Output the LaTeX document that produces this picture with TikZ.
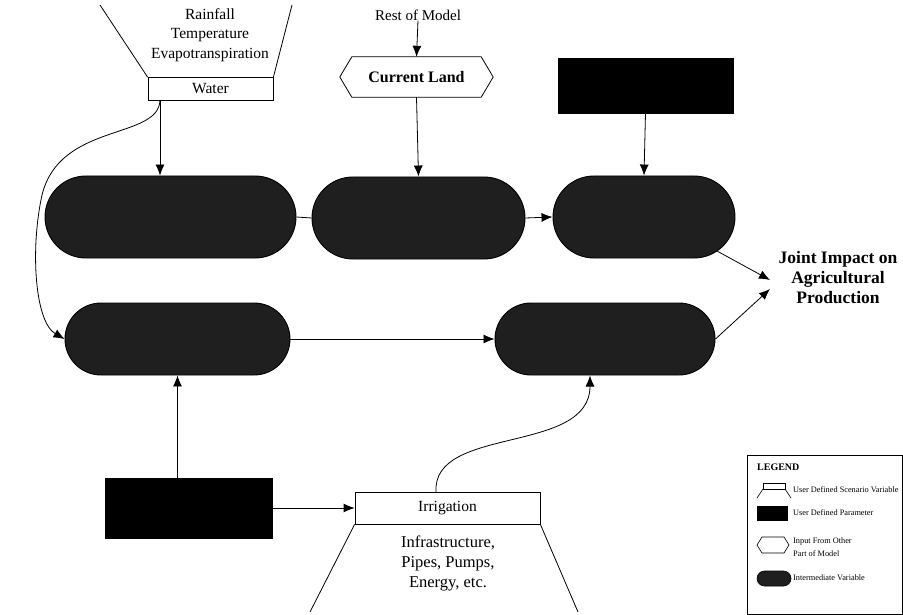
\documentclass[tikz,border=0pt]{standalone}
\usepackage{fontspec}
\setmainfont{Liberation Serif}
\usetikzlibrary{arrows.meta,shapes.misc}
\begin{document}
\begin{tikzpicture}[x=1pt,y=-1pt,
  arr/.style={-{Latex[length=11pt,width=9pt]}, line width=0.8pt},
  ln/.style={line width=0.8pt},
  pill/.style={rounded rectangle, draw=black, fill=black!88, line width=0.9pt, inner sep=0pt},
  param/.style={draw=black, fill=black, inner sep=0pt},
  whitebox/.style={draw=black, fill=white, line width=0.8pt, inner sep=0pt, font=\fontsize{15.5}{19}\selectfont},
  lbl/.style={align=center, font=\fontsize{15.5}{19.5}\selectfont, inner sep=0pt},
  blbl/.style={align=center, font=\fontsize{16}{20}\selectfont\bfseries, inner sep=0pt},
  leg/.style={anchor=west, align=left, font=\fontsize{8.3}{13}\selectfont, inner sep=0pt}
]
\useasboundingbox (0,0) rectangle (903,615);
\fill[white] (0,0) rectangle (903,615);

% ---- Water scenario variable
\node[lbl] (env) at (210,35) {Rainfall\\Temperature\\Evapotranspiration};
\node[whitebox, minimum width=125pt, minimum height=23pt] (water) at (210.5,89) {Water};
\draw[ln] (water.north west) -- (100,5);
\draw[ln] (water.north east) -- (292,5);
\coordinate (wout) at (160,100.5);

% ---- Current land
\node[lbl, font=\fontsize{15}{19}\selectfont] (rest) at (418,15) {Rest of Model};
\node[blbl, minimum width=153pt, minimum height=40pt] (cl) at (416.5,77) {};
\draw[ln, fill=white] (cl.west) -- ([xshift=12pt]cl.north west) -- ([xshift=-12pt]cl.north east)
  -- (cl.east) -- ([xshift=-12pt]cl.south east) -- ([xshift=12pt]cl.south west) -- cycle;
\node[blbl] (cltext) at (cl) {Current Land};

% ---- parameters
\node[param, minimum width=175pt, minimum height=55pt] (par1) at (645.5,85.5) {};
\node[param, minimum width=167pt, minimum height=60pt] (par2) at (188.5,508) {};

% ---- intermediate variables
\node[pill, minimum width=251pt, minimum height=82pt] (p1) at (170.5,217) {};
\node[pill, minimum width=213pt, minimum height=82pt] (p2) at (418.5,218) {};
\node[pill, minimum width=182pt, minimum height=82pt] (p3) at (644,217) {};
\node[pill, minimum width=225pt, minimum height=72pt] (p4) at (177.5,339) {};
\node[pill, minimum width=220pt, minimum height=72pt] (p5) at (605,339) {};

% ---- irrigation
\node[whitebox, minimum width=185pt, minimum height=32pt] (irr) at (447.5,508) {Irrigation};
\draw[ln] (irr.south west) -- (310,612);
\draw[ln] (irr.south east) -- (578,612);
\node[lbl, font=\fontsize{16.5}{20}\selectfont] (infra) at (448,563) {Infrastructure,\\Pipes, Pumps,\\Energy, etc.};
\coordinate (iout) at (436,492);

% ---- joint impact
\node[blbl, font=\fontsize{17.5}{20}\selectfont\bfseries] (joint) at (838,278) {Joint Impact on\\Agricultural\\Production};
\coordinate (j1) at (770,280);
\coordinate (j2) at (770,289);

% ---- connectors
\draw[arr] (rest.south) -- (cl.north);
\draw[arr] (cl.south) -- (p2.north);
\draw[arr] (par1.south) -- (p3.north);
\draw[arr] (wout) -- (wout |- p1.north);
\draw[ln] (p1.east) -- (p2.west);
\draw[arr] (p2.east) -- (p3.west);
\draw[arr] (wout) .. controls (158,140) and (60,122) .. (42,195)
  .. controls (30,250) and (35,322) .. (p4.west);
\draw[arr] (p4.east) -- (p5.west);
\draw[arr] (par2.north -| p4.south) -- (p4.south);
\draw[arr] (par2.east) -- (irr.west);
\draw[arr] (iout) .. controls (432,425) and (590,455) .. (590,375.5);
\draw[arr] (p3.-25) -- (j1);
\draw[arr] (p5.east) -- (j2);

% ---- legend
\draw[line width=0.9pt] (747,455) rectangle (902.5,614.5);
\node[leg, font=\fontsize{10}{12}\selectfont\bfseries] (legt) at (757,467) {LEGEND};
\draw[line width=0.6pt] (763,483) rectangle (785,489);
\draw[line width=0.6pt] (763,489) -- (757,498);
\draw[line width=0.6pt] (785,489) -- (791,498);
\node[leg] (l1) at (793,490) {User Defined Scenario Variable};
\fill[black] (757,506) rectangle (788,521);
\node[leg] (l2) at (793,513) {User Defined Parameter};
\draw[line width=0.6pt] (757,545) -- (762,537) -- (784,537) -- (789,545) -- (784,553) -- (762,553) -- cycle;
\node[leg] (l3) at (793,547) {Input From Other\\Part of Model};
\node[pill, line width=0.6pt, minimum width=34pt, minimum height=15pt] (lp) at (774,578.5) {};
\node[leg] (l4) at (793,578) {Intermediate Variable};
\end{tikzpicture}
\end{document}
